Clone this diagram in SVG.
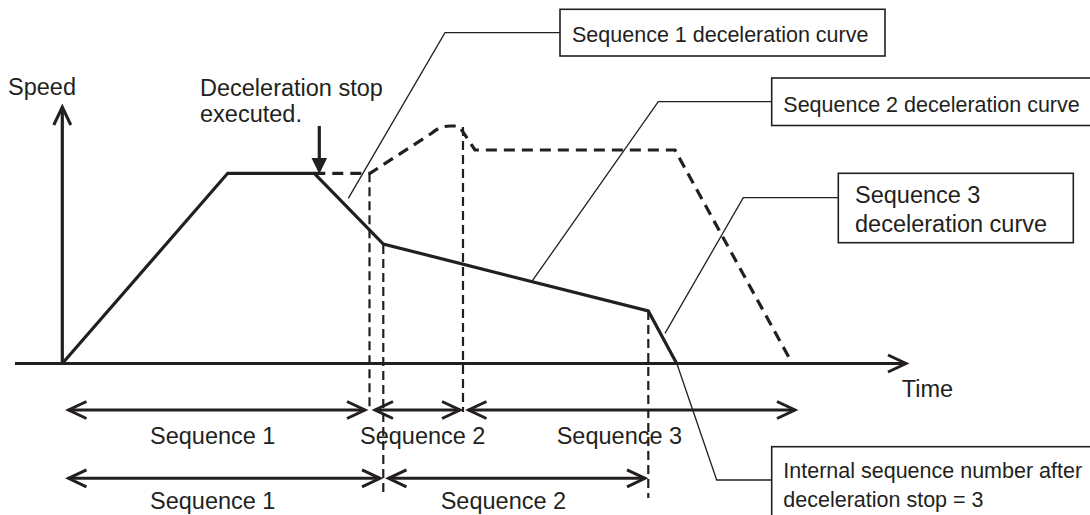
<svg xmlns="http://www.w3.org/2000/svg" width="1090" height="515" viewBox="0 0 1090 515">
<style>
text{font-family:"Liberation Sans",Arial,sans-serif;fill:#231f20}
.big{font-size:23.5px}
.small{font-size:21.5px}
.thick{fill:none;stroke:#231f20;stroke-width:3.2;stroke-linejoin:miter}
.dash{fill:none;stroke:#231f20;stroke-width:3.2;stroke-dasharray:11 7}
.vdash{fill:none;stroke:#231f20;stroke-width:2.2;stroke-dasharray:9 5}
.thin{fill:none;stroke:#231f20;stroke-width:1.3}
.box{fill:#fff;stroke:#231f20;stroke-width:1.6}
.dim{fill:none;stroke:#231f20;stroke-width:3;marker-start:url(#chev);marker-end:url(#chev)}
</style>
<defs>
<marker id="chev" markerUnits="userSpaceOnUse" viewBox="-22 -12 26 24" markerWidth="26" markerHeight="24" refX="0" refY="0" orient="auto-start-reverse">
<path d="M-18,-8.5 L0,0 L-18,8.5" fill="none" stroke="#231f20" stroke-width="3"/>
</marker>
</defs>
<g id="axes">
<path class="thick" d="M62.3,363.5 V107" marker-end="url(#chev)"/>
<path class="thick" d="M15,363.5 H906" marker-end="url(#chev)"/>
<text class="big" x="8" y="95">Speed</text>
<text class="big" x="901.7" y="396.7">Time</text>
</g>
<g id="connectors">
<path class="vdash" d="M369.5,173.3 V407"/>
<path class="vdash" d="M383.3,245 V497"/>
<path class="vdash" d="M463,127 V412"/>
<path class="vdash" d="M648.3,311 V498"/>
<path class="dash" d="M314.3,173.3 H370 L432,133 Q440,126 450,126 L459,126 L475,150 H675 L792,363"/>
<path class="thick" d="M62.3,363.5 L227.7,173.3 H314.3 L383.3,244 L648.3,311 L676.7,363.5"/>
<path class="thin" d="M560,32.7 H445 L348.3,198.3"/>
<path class="thin" d="M771.7,101.7 H658.3 L531.7,281.7"/>
<path class="thin" d="M838.3,197.7 H743.3 L665,333.3"/>
<path class="thin" d="M771.7,480 H716.7 L677,364"/>
<path class="dim" d="M68.5,410 H365"/>
<path class="dim" d="M375,410 H460"/>
<path class="dim" d="M468.5,410 H795"/>
<path class="dim" d="M68.5,478.3 H380"/>
<path class="dim" d="M388.5,478.3 H645"/>
<path d="M319.3,126 V160" fill="none" stroke="#231f20" stroke-width="3.2"/>
<path d="M311.5,158 H327.1 L319.3,174 Z" fill="#231f20"/>
</g>
<g id="stop-label">
<text class="big" x="200" y="95.7">Deceleration stop</text>
<text class="big" x="200" y="121.7">executed.</text>
</g>
<g id="box-seq1">
<rect class="box" x="560" y="9.3" width="325" height="46.7"/>
<text class="small" x="572" y="41.7">Sequence 1 deceleration curve</text>
</g>
<g id="box-seq2">
<rect class="box" x="771.7" y="78" width="330" height="47.5"/>
<text class="small" x="783.3" y="111.7">Sequence 2 deceleration curve</text>
</g>
<g id="box-seq3">
<rect class="box" x="838.3" y="173.3" width="235" height="69.4"/>
<text class="big" x="855" y="203.3">Sequence 3</text>
<text class="big" x="855" y="231.7">deceleration curve</text>
</g>
<g id="box-internal">
<rect class="box" x="771.7" y="446.7" width="330" height="80"/>
<text class="small" x="783.3" y="478">Internal sequence number after</text>
<text class="small" x="783.3" y="507">deceleration stop = 3</text>
</g>
<g id="labels">
<text class="big" x="150" y="444">Sequence 1</text>
<text class="big" x="360" y="444">Sequence 2</text>
<text class="big" x="556.7" y="444">Sequence 3</text>
<text class="big" x="150" y="509">Sequence 1</text>
<text class="big" x="440.7" y="509">Sequence 2</text>
</g>
</svg>
